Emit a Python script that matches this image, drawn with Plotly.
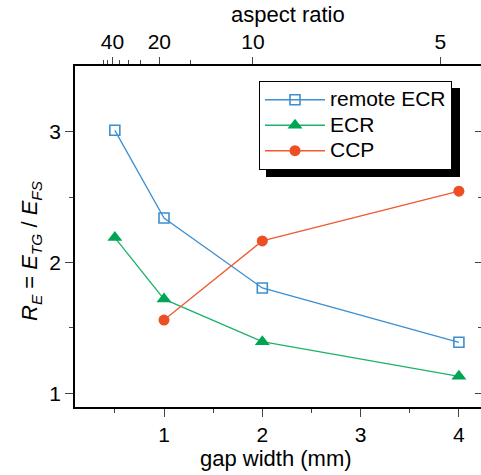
import plotly.graph_objects as go

# ---- data ----
gap_remote = [0.5, 1, 2, 4]
re_remote = [3.01, 2.34, 1.805, 1.39]
gap_ecr = [0.5, 1, 2, 4]
re_ecr = [2.19, 1.72, 1.395, 1.13]
gap_ccp = [1, 2, 4]
re_ccp = [1.56, 2.165, 2.545]
series_names = ["remote ECR", "ECR", "CCP"]

x_ticks = [1, 2, 3, 4]
x_minor = [0.5, 1.5, 2.5, 3.5]
y_ticks = [1, 2, 3]
y_minor = [1.5, 2.5]
aspect_major = [40, 20, 10, 5]
aspect_minor = [50, 45, 35, 30, 25, 15]
DEPTH = 19.05  # gap width * aspect ratio (mm)

FONT = "Liberation Sans, Arial, sans-serif"
W, H = 481, 475
L, R, T, B = 75, 0, 66, 68
pw = W - L - R
ph = H - T - B

def px(xp):
    return (xp - L) / pw

def py(yp):
    return (H - B - yp) / ph

def lg(name):
    return '<span style="font-size:21px">' + name + "</span>"

fig = go.Figure()
fig.add_trace(go.Scatter(
    x=gap_remote, y=re_remote, mode="lines+markers", name=lg(series_names[0]),
    line=dict(color="#3d8fd1", width=1.3),
    marker=dict(symbol="square-open", size=10, color="#3d8fd1", line=dict(width=1.6)),
))
fig.add_trace(go.Scatter(
    x=gap_ecr, y=re_ecr, mode="lines+markers", name=lg(series_names[1]),
    line=dict(color="#1db26a", width=1.3),
    marker=dict(symbol="triangle-up", size=13, color="#00a553"),
))
fig.add_trace(go.Scatter(
    x=gap_ccp, y=re_ccp, mode="lines+markers", name=lg(series_names[2]),
    line=dict(color="#f05a32", width=1.3),
    marker=dict(symbol="circle", size=11, color="#ee4e23"),
))
# invisible traces to activate top / right axes
fig.add_trace(go.Scatter(x=gap_remote, y=re_remote, xaxis="x2", mode="none",
                         showlegend=False, hoverinfo="skip"))
fig.add_trace(go.Scatter(x=gap_remote, y=re_remote, yaxis="y2", mode="none",
                         showlegend=False, hoverinfo="skip"))

xr = [1 + (L - 164) / 98.3, 1 + (W - R - 164) / 98.3]
yr = [1 - (H - B - 393.3) / 131.0, 3 + (131.7 - T) / 131.0]

fig.update_layout(
    width=W, height=H,
    margin=dict(l=L, r=R, t=T, b=B),
    paper_bgcolor="white", plot_bgcolor="white",
    font=dict(family=FONT, size=21, color="black"),
    showlegend=True,
    legend=dict(
        x=px(259), y=py(81), xanchor="left", yanchor="top",
        bgcolor="white", bordercolor="black", borderwidth=1,
        font=dict(size=17.3), tracegroupgap=0, itemwidth=60,
    ),
    xaxis=dict(
        range=xr, tickvals=x_ticks, ticks="outside", ticklen=8, tickwidth=1.3,
        showline=True, linecolor="black", linewidth=1.5, showgrid=False,
        zeroline=False, tickfont=dict(size=21),
        minor=dict(tickvals=x_minor, ticks="outside", ticklen=4, tickwidth=1.2),
    ),
    xaxis2=dict(
        range=xr, overlaying="x", side="top", anchor="y",
        tickvals=[DEPTH / a for a in aspect_major],
        ticktext=[str(a) for a in aspect_major],
        ticks="outside", ticklen=7, tickwidth=1.3,
        showline=True, linecolor="black", linewidth=1.5, showgrid=False,
        zeroline=False, tickfont=dict(size=21),
        minor=dict(tickvals=[DEPTH / a for a in aspect_minor], ticks="outside",
                   ticklen=4, tickwidth=1.2),
    ),
    yaxis=dict(
        range=yr, tickvals=y_ticks, ticks="outside", ticklen=8, tickwidth=1.3,
        showline=True, linecolor="black", linewidth=1.5, showgrid=False,
        zeroline=False, tickfont=dict(size=21),
        minor=dict(tickvals=y_minor, ticks="outside", ticklen=4, tickwidth=1.2),
    ),
    yaxis2=dict(
        range=yr, overlaying="y", side="right", anchor="x",
        tickvals=y_ticks, ticks="inside", ticklen=6, tickwidth=1.3,
        showline=False, showticklabels=False, showgrid=False, zeroline=False,
        minor=dict(tickvals=y_minor, ticks="inside", ticklen=3, tickwidth=1.2),
    ),
)

# legend drop shadow
fig.add_shape(type="rect", xref="paper", yref="paper",
              x0=px(266), x1=px(460), y0=py(177), y1=py(88),
              fillcolor="black", line=dict(width=0), layer="above")

fig.add_annotation(
    text="<i>R</i><sub><i>E</i></sub> = <i>E</i><sub><i>TG</i></sub> / <i>E</i><sub><i>FS</i></sub>",
    xref="paper", yref="paper", x=px(31), y=py(251), textangle=-90,
    showarrow=False, xanchor="center", yanchor="middle", font=dict(size=22),
)
fig.add_annotation(text="gap width (mm)", xref="paper", yref="paper",
                   x=px(276), y=py(458), showarrow=False,
                   xanchor="center", yanchor="middle", font=dict(size=22))
fig.add_annotation(text="aspect ratio", xref="paper", yref="paper",
                   x=px(288), y=py(15), showarrow=False,
                   xanchor="center", yanchor="middle", font=dict(size=22))

fig.write_html("out.html", config={"displayModeBar": False},
               post_script="document.body.style.margin='0';document.body.style.overflow='hidden';")
